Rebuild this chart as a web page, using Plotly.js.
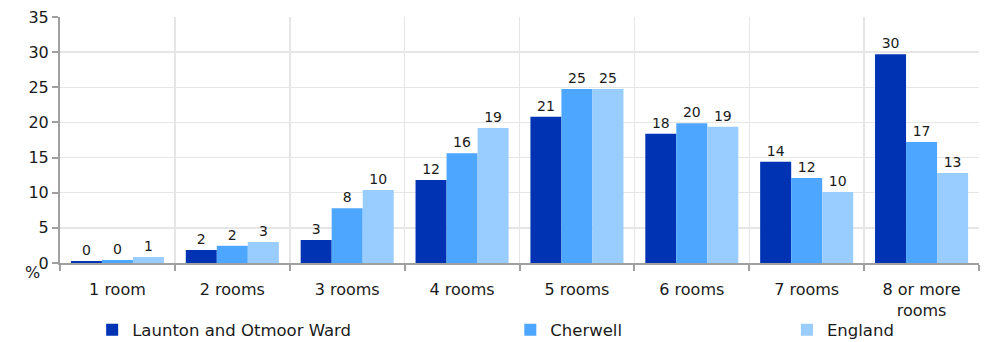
<!DOCTYPE html>
<html><head><meta charset="utf-8">
<script src="https://cdn.plot.ly/plotly-3.0.1.min.js"></script>
<style>html,body{margin:0;padding:0;background:#fff;}#chart{width:991px;height:342px;}</style>
</head><body><div id="chart"></div>
<script>
const categories = ["1 room","2 rooms","3 rooms","4 rooms","5 rooms","6 rooms","7 rooms","8 or more<br>rooms"];
const seriesNames = ["Launton and Otmoor Ward","Cherwell","England"];
const launton = [0.28, 1.85, 3.27, 11.8, 20.8, 18.4, 14.4, 29.7];
const cherwell = [0.43, 2.45, 7.8, 15.6, 24.75, 19.9, 12.1, 17.2];
const england = [0.85, 2.99, 10.4, 19.2, 24.75, 19.4, 10.1, 12.8];
const yTicks = [0,5,10,15,20,25,30,35];

const colors = ["#0033B3","#4DA6FF","#99CCFF"];
const legendX = [0.035, 0.49, 0.791];
const FONT = "DejaVu Sans, Arial, sans-serif";
const values = [launton, cherwell, england];

const traces = values.map((v,i)=>({
  type:"bar", x:categories, y:v, name:seriesNames[i],
  marker:{color:colors[i]},
  texttemplate:"%{y:.0f}", textposition:"outside",
  textfont:{family:FONT,size:14,color:"#1a1a1a"},
  cliponaxis:false, hoverinfo:"skip",
  legend: i===0 ? "legend" : "legend"+(i+1)
}));

const legendBase = (x)=>({orientation:"h", x:x, xanchor:"left", y:-0.272, yanchor:"middle",
  font:{family:FONT,size:16.5,color:"#1a1a1a"}, bgcolor:"rgba(0,0,0,0)", itemwidth:30});

const layout = {
  width:991, height:342,
  margin:{l:60, r:12, t:17, b:79, autoexpand:false},
  paper_bgcolor:"#fff", plot_bgcolor:"#fff",
  font:{family:FONT, color:"#1a1a1a"},
  barmode:"group", bargap:0.19, bargroupgap:0,
  xaxis:{type:"category", tickson:"boundaries", showgrid:true, gridcolor:"#E6E6E6", gridwidth:1.5,
    showline:true, linecolor:"#A0A0A0", linewidth:2, ticks:"outside", ticklen:6, tickcolor:"#A0A0A0", tickwidth:2,
    tickfont:{family:FONT,size:16,color:"#1a1a1a"}, fixedrange:true, automargin:false, ticklabelstandoff:11},
  yaxis:{range:[0,35], tickvals:yTicks, showgrid:true, gridcolor:"#E6E6E6", gridwidth:1.5,
    showline:true, linecolor:"#A0A0A0", linewidth:2, ticks:"outside", ticklen:6, tickcolor:"#A0A0A0", tickwidth:2,
    tickfont:{family:FONT,size:16,color:"#1a1a1a"}, zeroline:false, fixedrange:true, automargin:false},
  showlegend:true,
  legend: legendBase(legendX[0]),
  legend2: legendBase(legendX[1]),
  legend3: legendBase(legendX[2]),
  annotations:[{text:"%", xref:"paper", yref:"paper", x:-0.02, y:0.01, xanchor:"right", yanchor:"top",
    showarrow:false, font:{family:FONT,size:16,color:"#1a1a1a"}}]
};
Plotly.newPlot("chart", traces, layout, {displayModeBar:false, staticPlot:true});
</script></body></html>
